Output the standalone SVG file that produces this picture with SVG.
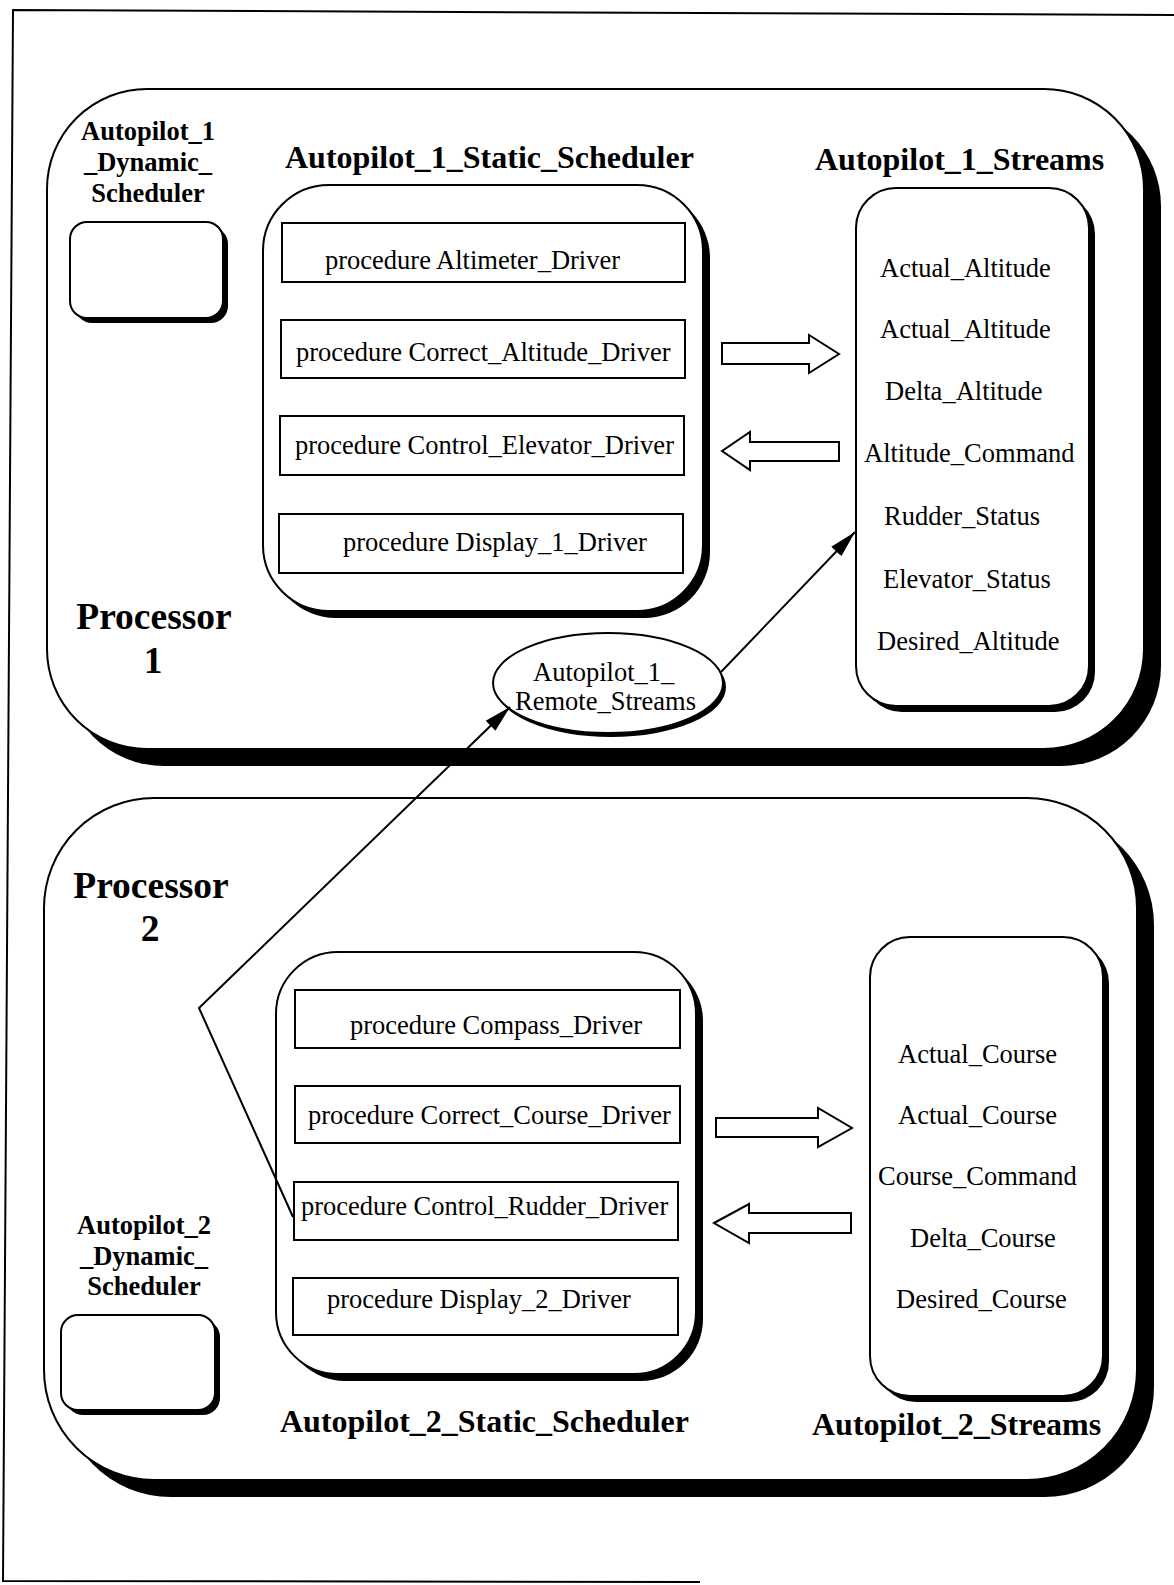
<svg xmlns="http://www.w3.org/2000/svg" width="1174" height="1585" viewBox="0 0 1174 1585">
  <style>
    .ln { fill: none; stroke: #000; stroke-width: 2; }
    .box { fill: #fff; stroke: #000; stroke-width: 2; }
    .shd { fill: #000; stroke: none; }
    .hollow { fill: #fff; stroke: #000; stroke-width: 2; stroke-linejoin: miter; }
    .t { font-family: "Liberation Serif", "Times New Roman", serif; fill: #000; }
    .b26 { font-size: 26.5px; font-weight: bold; text-anchor: middle; }
    .b32 { font-size: 32px; font-weight: bold; }
    .b36 { font-size: 37.5px; font-weight: bold; text-anchor: middle; }
    .r26 { font-size: 26.5px; }
  </style>
  <defs>
    <marker id="head" markerUnits="userSpaceOnUse" markerWidth="28" markerHeight="16" refX="27" refY="8" orient="auto">
      <path d="M0,1 L27,8 L0,15 z" fill="#000"/>
    </marker>
  </defs>

  <rect width="1174" height="1585" fill="#fff"/>

  <!-- page frame -->
  <path class="ln" d="M1174,15 L13,10 L3,1581 L700,1582"/>

  <!-- Processor 1 -->
  <g id="processor1">
    <rect class="shd" x="64" y="106" width="1097" height="660" rx="100" ry="100"/>
    <rect class="box" x="47" y="89" width="1097" height="660" rx="100" ry="100"/>
    <text class="t b36" x="154" y="629">Processor</text>
    <text class="t b36" x="153" y="673">1</text>
  </g>

  <!-- Processor 2 -->
  <g id="processor2">
    <rect class="shd" x="61" y="815" width="1093" height="682" rx="110" ry="110"/>
    <rect class="box" x="44" y="798" width="1093" height="682" rx="110" ry="110"/>
    <text class="t b36" x="151" y="898">Processor</text>
    <text class="t b36" x="150" y="941">2</text>
  </g>

  <!-- Autopilot 1 dynamic scheduler -->
  <g id="autopilot1-dynamic-scheduler">
    <text class="t b26" x="148" y="140">Autopilot_1</text>
    <text class="t b26" x="148" y="171">_Dynamic_</text>
    <text class="t b26" x="148" y="202">Scheduler</text>
    <rect class="shd" x="75" y="227" width="153" height="96" rx="17" ry="17"/>
    <rect class="box" x="70" y="222" width="153" height="96" rx="17" ry="17"/>
  </g>

  <!-- Autopilot 1 static scheduler -->
  <g id="autopilot1-static-scheduler">
    <text class="t b32" x="285" y="168">Autopilot_1_Static_Scheduler</text>
    <rect class="shd" x="270" y="192" width="440" height="426" rx="66" ry="66"/>
    <rect class="box" x="263" y="185" width="440" height="426" rx="66" ry="66"/>
  </g>
  <g id="altimeter-driver">
    <rect class="box" x="282" y="223" width="403" height="59"/>
    <text class="t r26" x="325" y="269">procedure Altimeter_Driver</text>
  </g>
  <g id="correct-altitude-driver">
    <rect class="box" x="281" y="320" width="404" height="58"/>
    <text class="t r26" x="296" y="361">procedure Correct_Altitude_Driver</text>
  </g>
  <g id="control-elevator-driver">
    <rect class="box" x="280" y="416" width="404" height="59"/>
    <text class="t r26" x="295" y="454">procedure Control_Elevator_Driver</text>
  </g>
  <g id="display1-driver">
    <rect class="box" x="279" y="514" width="404" height="59"/>
    <text class="t r26" x="343" y="551">procedure Display_1_Driver</text>
  </g>

  <!-- Autopilot 1 streams -->
  <g id="autopilot1-streams">
    <text class="t b32" x="815" y="170">Autopilot_1_Streams</text>
    <rect class="shd" x="862" y="194" width="233" height="518" rx="40" ry="40"/>
    <rect class="box" x="856" y="188" width="233" height="518" rx="40" ry="40"/>
    <text class="t r26" x="880" y="277">Actual_Altitude</text>
    <text class="t r26" x="880" y="338">Actual_Altitude</text>
    <text class="t r26" x="885" y="400">Delta_Altitude</text>
    <text class="t r26" x="864" y="462">Altitude_Command</text>
    <text class="t r26" x="884" y="525">Rudder_Status</text>
    <text class="t r26" x="883" y="588">Elevator_Status</text>
    <text class="t r26" x="877" y="650">Desired_Altitude</text>
  </g>

  <!-- Autopilot 1 remote streams -->
  <g id="autopilot1-remote-streams">
    <ellipse class="shd" cx="611" cy="687" rx="115" ry="50"/>
    <ellipse class="box" cx="608" cy="683" rx="115" ry="50"/>
    <text class="t r26" x="533" y="681">Autopilot_1_</text>
    <text class="t r26" x="515" y="710">Remote_Streams</text>
  </g>

  <!-- Autopilot 2 dynamic scheduler -->
  <g id="autopilot2-dynamic-scheduler">
    <text class="t b26" x="144" y="1234">Autopilot_2</text>
    <text class="t b26" x="144" y="1265">_Dynamic_</text>
    <text class="t b26" x="144" y="1295">Scheduler</text>
    <rect class="shd" x="66" y="1320" width="154" height="95" rx="17" ry="17"/>
    <rect class="box" x="61" y="1315" width="154" height="95" rx="17" ry="17"/>
  </g>

  <!-- Autopilot 2 static scheduler -->
  <g id="autopilot2-static-scheduler">
    <rect class="shd" x="283" y="959" width="420" height="422" rx="62" ry="62"/>
    <rect class="box" x="276" y="952" width="420" height="422" rx="62" ry="62"/>
    <text class="t b32" x="280" y="1432">Autopilot_2_Static_Scheduler</text>
  </g>
  <g id="compass-driver">
    <rect class="box" x="295" y="990" width="385" height="58"/>
    <text class="t r26" x="350" y="1034">procedure Compass_Driver</text>
  </g>
  <g id="correct-course-driver">
    <rect class="box" x="295" y="1086" width="385" height="57"/>
    <text class="t r26" x="308" y="1124">procedure Correct_Course_Driver</text>
  </g>
  <g id="control-rudder-driver">
    <rect class="box" x="294" y="1182" width="384" height="58"/>
    <text class="t r26" x="301" y="1215">procedure Control_Rudder_Driver</text>
  </g>
  <g id="display2-driver">
    <rect class="box" x="293" y="1278" width="385" height="57"/>
    <text class="t r26" x="327" y="1308">procedure Display_2_Driver</text>
  </g>

  <!-- Autopilot 2 streams -->
  <g id="autopilot2-streams">
    <rect class="shd" x="876" y="943" width="233" height="459" rx="40" ry="40"/>
    <rect class="box" x="870" y="937" width="233" height="459" rx="40" ry="40"/>
    <text class="t r26" x="898" y="1063">Actual_Course</text>
    <text class="t r26" x="898" y="1124">Actual_Course</text>
    <text class="t r26" x="878" y="1185">Course_Command</text>
    <text class="t r26" x="910" y="1247">Delta_Course</text>
    <text class="t r26" x="896" y="1308">Desired_Course</text>
    <text class="t b32" x="812" y="1435">Autopilot_2_Streams</text>
  </g>

  <!-- connectors -->
  <g id="connectors">
    <polygon class="hollow" points="722,343 809,343 809,335 839,354 809,373 809,364 722,364"/>
    <polygon class="hollow" points="722,451 750,432 750,442 839,442 839,461 750,461 750,470"/>
    <polygon class="hollow" points="716,1118 818,1118 818,1108 852,1128 818,1147 818,1137 716,1137"/>
    <polygon class="hollow" points="714,1223 749,1204 749,1213 851,1213 851,1233 749,1233 749,1243"/>
    <polyline class="ln" points="293,1217 199,1008 510,707" marker-end="url(#head)"/>
    <line class="ln" x1="721" y1="672" x2="855" y2="532" marker-end="url(#head)"/>
  </g>
</svg>
